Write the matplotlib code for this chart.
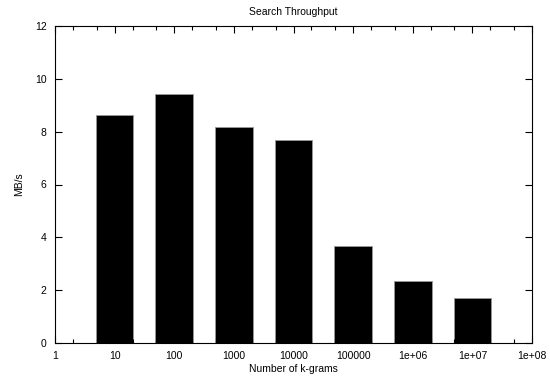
import numpy as np
import matplotlib
matplotlib.use("Agg")
import matplotlib.pyplot as plt
import matplotlib.ticker as mticker

# data
kgrams = [10, 100, 1000, 10000, 100000, 1e6, 1e7]
mbs = [8.62, 9.42, 8.18, 7.69, 3.67, 2.35, 1.69]
xtick_vals = [1, 10, 100, 1000, 10000, 100000, 1e6, 1e7, 1e8]
xtick_labels = ["1", "10", "100", "1000", "10000", "100000", "1e+06", "1e+07", "1e+08"]

plt.rcParams['font.family'] = ['Liberation Sans', 'DejaVu Sans']
plt.rcParams['font.size'] = 7.5

fig = plt.figure(figsize=(5.5, 3.77), dpi=100)
ax = fig.add_axes([55 / 550, 1 - 343 / 377, 477 / 550, 317 / 377])

# bars symmetric in log space
half = 10 ** 0.315
lefts = [k / half for k in kgrams]
widths = [k * half - k / half for k in kgrams]
ax.bar(lefts, mbs, width=widths, align='edge', color='black',
       edgecolor='#999999', linewidth=0.6)

ax.set_xscale('log')
ax.set_xlim(1, 1e8)
ax.set_ylim(0, 12)
ax.xaxis.set_major_locator(mticker.FixedLocator(xtick_vals))
ax.xaxis.set_major_formatter(mticker.FixedFormatter(xtick_labels))
ax.xaxis.set_minor_locator(mticker.LogLocator(base=10, subs=(2, 5), numticks=20))
ax.xaxis.set_minor_formatter(mticker.NullFormatter())
ax.yaxis.set_major_locator(mticker.MultipleLocator(2))

ax.tick_params(which='both', direction='in', top=True, right=True,
               width=0.8, colors='black', labelsize=7.5, pad=6)
ax.tick_params(which='major', length=5)
ax.tick_params(which='minor', length=3)
for s in ax.spines.values():
    s.set_linewidth(0.8)

ax.set_title("Search Throughput", fontsize=7.5, pad=8)
ax.set_xlabel("Number of k-grams", fontsize=7.5, labelpad=2)
ax.set_ylabel("MB/s", fontsize=7.5, labelpad=8)

fig.savefig("out.png", dpi=100)
